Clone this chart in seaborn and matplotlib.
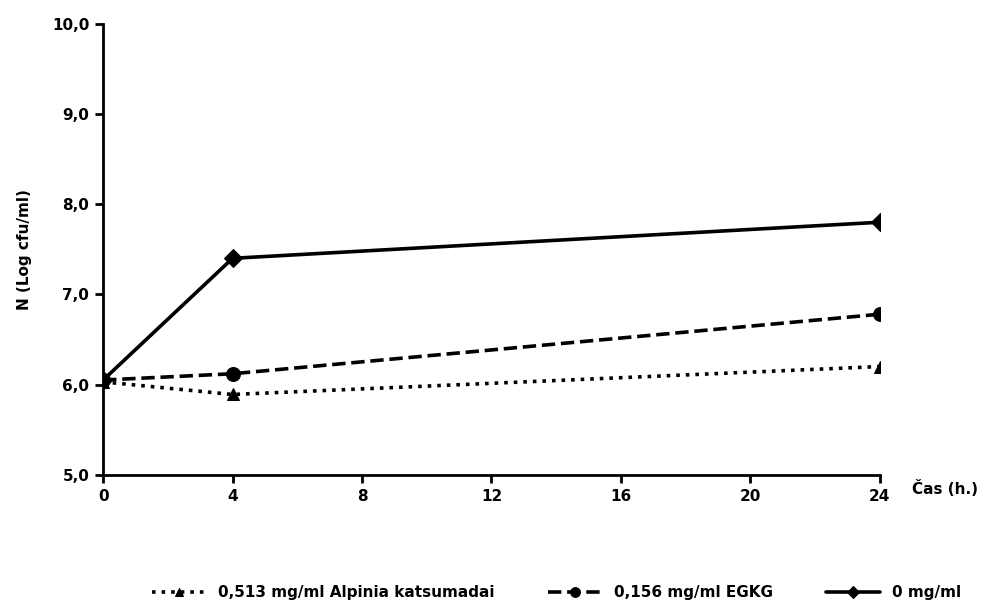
import matplotlib
matplotlib.use("Agg")
import matplotlib.pyplot as plt
import seaborn as sns
import pandas as pd

hours = [0, 4, 24]
alpinia = [6.03, 5.89, 6.20]
egkg = [6.05, 6.12, 6.78]
control = [6.05, 7.40, 7.80]
series_names = ["0,513 mg/ml Alpinia katsumadai", "0,156 mg/ml EGKG", "0 mg/ml"]
x_ticks = [0, 4, 8, 12, 16, 20, 24]
y_ticks = [5.0, 6.0, 7.0, 8.0, 9.0, 10.0]

sns.set_theme(style="white")
plt.rcParams['font.family'] = ['DejaVu Sans']
plt.rcParams['font.weight'] = 'bold'
plt.rcParams['text.color'] = 'black'
plt.rcParams['axes.labelcolor'] = 'black'
plt.rcParams['xtick.color'] = 'black'
plt.rcParams['ytick.color'] = 'black'

fig = plt.figure(figsize=(9.82, 6.11), dpi=100)
ax = fig.add_axes([0.105, 0.223, 0.791, 0.738])

styles = [(":", "^", 9), ("--", "o", 10), ("-", "D", 9)]
for vals, name, (ls, mk, ms) in zip([alpinia, egkg, control], series_names, styles):
    df = pd.DataFrame({"h": hours, "v": vals})
    sns.lineplot(data=df, x="h", y="v", ax=ax, color="black", linestyle=ls,
                 marker=mk, markersize=ms, linewidth=2.6, label=name,
                 markeredgecolor="black")

ax.set_xlim(0, 24)
ax.set_ylim(5.0, 10.0)
ax.set_xticks(x_ticks)
ax.set_xticklabels([str(t) for t in x_ticks], fontsize=11, fontweight="bold")
ax.set_yticks(y_ticks)
ax.set_yticklabels([f"{t:.1f}".replace(".", ",") for t in y_ticks], fontsize=11, fontweight="bold")
for s in ["top", "right"]:
    ax.spines[s].set_visible(False)
for s in ["left", "bottom"]:
    ax.spines[s].set_color("black")
    ax.spines[s].set_linewidth(2)
ax.tick_params(axis="both", direction="out", length=6, width=2, color="black", bottom=True, left=True, pad=4)
ax.set_xlabel("")
ax.set_ylabel("N (Log cfu/ml)", fontsize=11, fontweight="bold", labelpad=14)
fig.text(0.962, 0.2, "Čas (h.)", fontsize=11, fontweight="bold", ha="center", va="center")

leg = ax.legend(loc="upper center", bbox_to_anchor=(0.584, -0.215), ncol=3, frameon=False,
                handlelength=3.5, columnspacing=3.5, markerscale=0.7,
                prop={"weight": "bold", "size": 11})
fig.savefig("out.png", dpi=100)
